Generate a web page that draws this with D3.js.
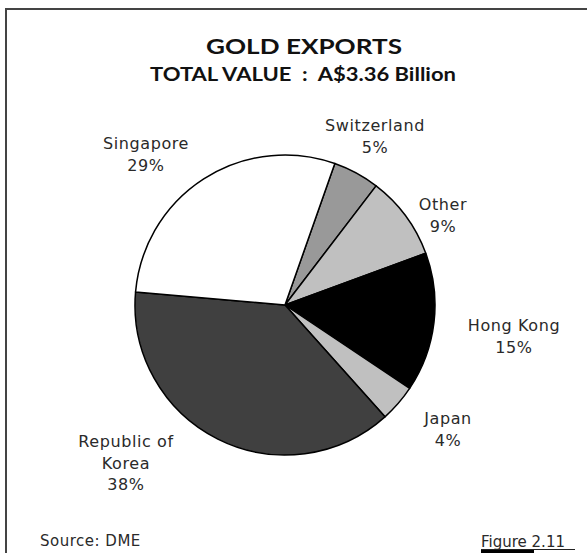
<!DOCTYPE html>
<html><head><meta charset="utf-8">
<script src="https://cdn.jsdelivr.net/npm/d3@7"></script>
<style>html,body{margin:0;padding:0;background:#fff}svg{display:block}</style>
</head><body>
<script>
// ---- data (clockwise from the Switzerland slice) ----
const categories = ["Switzerland", "Other", "Hong Kong", "Japan", "Republic of Korea", "Singapore"];
const shares = [5, 9, 15, 4, 38, 29];
const labelLines = [["Switzerland","5%"],["Other","9%"],["Hong Kong","15%"],["Japan","4%"],["Republic of","Korea","38%"],["Singapore","29%"]];
const titleText = "GOLD EXPORTS";
const subtitleText = "TOTAL VALUE : A$3.36 Billion";
const sourceText = "Source: DME";
const figureText = "Figure 2.11";

// ---- layout / style ----
const W = 588, H = 553;
const cx = 285, cy = 305, R = 150;
const fills = ["#999999", "#c0c0c0", "#000000", "#c0c0c0", "#404040", "#ffffff"];
const labelAnchors = [[375,131],[443,210],[514,331],[448,424],[126,447],[146,149]];
const lineGap = 21.5;
const labelFont = "'DejaVu Sans', sans-serif";

const svg = d3.select("body").append("svg").attr("width", W).attr("height", H);

// frame (top and left edges)
svg.append("path").attr("d", `M6,${H} V9 H587`).attr("fill","none").attr("stroke","#444").attr("stroke-width",2);

// titles
svg.append("text").attr("x",304).attr("y",54).attr("text-anchor","middle")
  .attr("font-family","Lato, sans-serif").attr("font-weight",700).attr("font-size",21)
  .attr("textLength",196).attr("lengthAdjust","spacingAndGlyphs").attr("fill","#111").text(titleText);
svg.append("text").attr("x",303).attr("y",81).attr("text-anchor","middle")
  .attr("font-family","Lato, sans-serif").attr("font-weight",700).attr("font-size",19)
  .attr("textLength",306).attr("lengthAdjust","spacingAndGlyphs").attr("fill","#111")
  .attr("xml:space","preserve").style("white-space","pre").text(subtitleText.replace(" : ", "  :  "));

// pie
const a0 = 19.4*Math.PI/180;
const pie = d3.pie().sort(null).startAngle(a0).endAngle(a0 + 2*Math.PI);
const arc = d3.arc().innerRadius(0).outerRadius(R);
const arcs = pie(shares);
svg.append("g").attr("transform",`translate(${cx},${cy})`)
  .selectAll("path").data(arcs).join("path")
  .attr("d", arc).attr("fill",(d,i)=>fills[i])
  .attr("stroke","#000").attr("stroke-width",1.5).attr("stroke-linejoin","round");

// labels
const lg = svg.append("g").attr("font-family",labelFont).attr("font-size",16)
  .attr("letter-spacing",0.6).attr("fill","#2a2a2a").attr("text-anchor","middle");
categories.forEach((c,i)=>{
  const t = lg.append("text").attr("x",labelAnchors[i][0]).attr("y",labelAnchors[i][1]);
  labelLines[i].forEach((ln,j)=>{
    t.append("tspan").attr("x",labelAnchors[i][0]).attr("dy", j===0?0:lineGap).text(ln);
  });
});

// footer
svg.append("text").attr("x",40).attr("y",546).attr("font-family",labelFont).attr("font-size",15)
  .attr("letter-spacing",0.5).attr("fill","#2a2a2a").text(sourceText);
svg.append("text").attr("x",481).attr("y",547).attr("font-family",labelFont).attr("font-size",15)
  .attr("fill","#2a2a2a").text(figureText);
svg.append("line").attr("x1",481).attr("x2",575).attr("y1",549.5).attr("y2",549.5).attr("stroke","#222").attr("stroke-width",1);
svg.append("rect").attr("x",481).attr("y",550).attr("width",53).attr("height",3).attr("fill","#000");
</script>
</body></html>
